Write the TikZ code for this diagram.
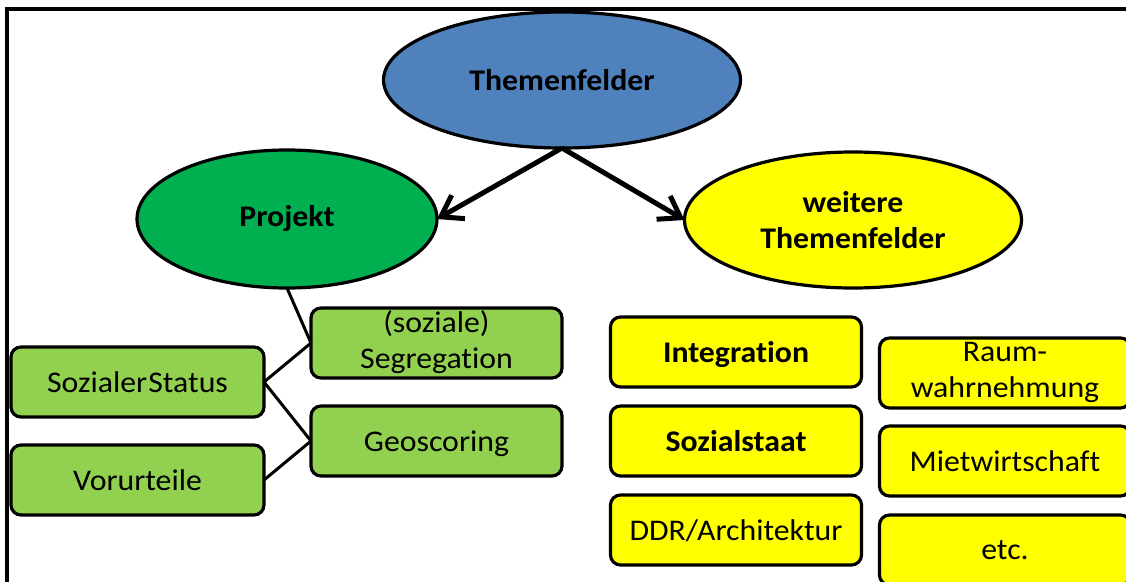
\documentclass[tikz,border=0pt]{standalone}
\usepackage{fontspec}
\setmainfont{Carlito}[FakeStretch=1.06,RawFeature={-liga;-clig;-calt;-dlig}]
\usetikzlibrary{shapes.geometric,arrows.meta}
\definecolor{hdblue}{HTML}{4F81BD}
\definecolor{prgreen}{HTML}{00B050}
\definecolor{boxgreen}{HTML}{92D050}
\definecolor{boxyellow}{HTML}{FFFF00}
\tikzset{
  txt/.style={font=\fontsize{30}{36}\selectfont, text=black, align=center},
  oval/.style={ellipse, draw=black, line width=3.2pt, inner sep=0pt, outer sep=0pt, txt},
  card/.style={draw=black, line width=3.2pt, rounded corners=10pt, inner sep=0pt, outer sep=0pt,
    minimum width=251pt, minimum height=70pt, txt, text depth=0pt},
  twoline/.style={text depth=6pt},
  gcard/.style={card, fill=boxgreen},
  ycard/.style={card, fill=boxyellow},
  link/.style={draw=black, line width=3pt},
  bigarrow/.style={draw=black, line width=5pt, -{Straight Barb[length=20pt,width=27pt]}},
}
\begin{document}
\begin{tikzpicture}[x=1pt,y=-1pt]
\clip (0,0) rectangle (1126,581);
\fill[white] (0,0) rectangle (1126,581);
% frame
\coordinate (fbl) at (7,600);
\coordinate (ftl) at (7,9);
\coordinate (ftr) at (1140,9);
\draw[line width=3.2pt] (fbl) -- (ftl) -- (ftr);

% ellipses
\node[oval, fill=hdblue, minimum width=357pt, minimum height=136pt] (top) at (562,80) {\bfseries Themenfelder};
\node[oval, fill=prgreen, minimum width=300pt, minimum height=138pt] (proj) at (287,219) {\bfseries Projekt};
\node[oval, fill=boxyellow, minimum width=337pt, minimum height=136pt] (more) at (853,220) {\bfseries weitere\\\bfseries Themenfelder};

% arrows
\draw[bigarrow] (top.south) -- (proj.east);
\draw[bigarrow] (top.south) -- (more.west);

% green boxes
\node[gcard, twoline] (seg) at (436.5,343) {(soziale)\\Segregation};
\node[gcard] (geo) at (436.5,441) {Geoscoring};
\node[gcard, minimum width=253pt] (stat) at (137.5,382) {Sozialer\hspace{1pt}Status};
\node[gcard, minimum width=253pt] (vor) at (137.5,480) {Vorurteile};

% connectors
\draw[link] (proj.south) -- (seg.west);
\draw[link] (stat.east) -- (seg.west);
\draw[link] (stat.east) -- (geo.west);
\draw[link] (vor.east) -- (geo.west);

% yellow boxes
\node[ycard] (integ) at (736,352) {\bfseries Integration};
\node[ycard] (staat) at (736,441) {\bfseries Sozialstaat};
\node[ycard] (ddr) at (736,530) {DDR/Architektur};
\node[ycard, twoline] (raum) at (1005,373) {Raum-\\wahrnehmung};
\node[ycard] (miet) at (1005,461) {Mietwirtschaft};
\node[ycard] (etc) at (1005,550) {etc.};
\end{tikzpicture}
\end{document}
